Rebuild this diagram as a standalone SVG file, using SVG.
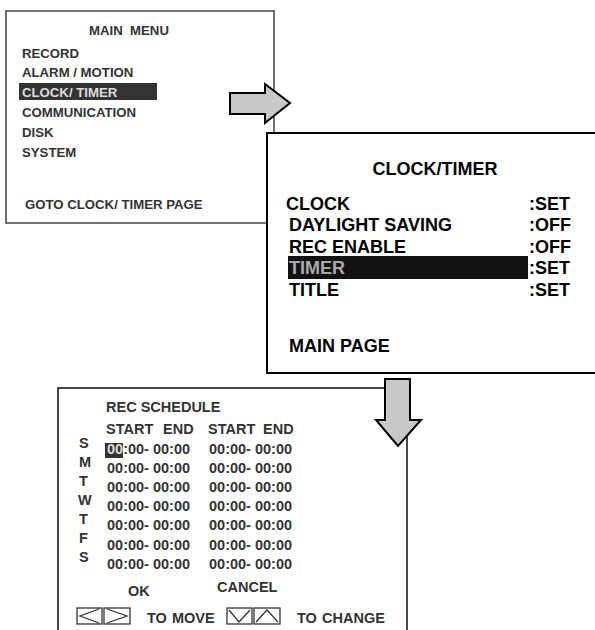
<svg xmlns="http://www.w3.org/2000/svg" width="595" height="630" viewBox="0 0 595 630">
<style>
text{font-family:"Liberation Sans",Arial,sans-serif;font-weight:bold}
.m{font-size:13.2px;fill:#333}
.c{font-size:18px;fill:#000}
.s{font-size:14.5px;fill:#333}
.arrow{fill:#c8c8c8;stroke:#000;stroke-width:2;stroke-linejoin:miter}
.key{fill:none;stroke:#333;stroke-width:1.3}
</style>
<rect width="595" height="630" fill="#fff"/>
<g id="main-menu">
<rect x="6" y="11" width="268" height="212" fill="#fff" stroke="#444" stroke-width="1.5"/>
<text class="m" x="129" y="35" text-anchor="middle">MAIN&#160; MENU</text>
<text class="m" x="22" y="58">RECORD</text>
<text class="m" x="22" y="77">ALARM / MOTION</text>
<rect x="19" y="83" width="138" height="17" fill="#333"/>
<text class="m" x="22" y="97" style="fill:#ddd">CLOCK/ TIMER</text>
<text class="m" x="22" y="117">COMMUNICATION</text>
<text class="m" x="22" y="137">DISK</text>
<text class="m" x="22" y="157">SYSTEM</text>
<text class="m" x="25" y="209">GOTO CLOCK/ TIMER PAGE</text>
</g>
<g id="connectors">
<polygon id="arrow-right" class="arrow" points="230,93 265,93 265,84 290,103 265,123 265,114 230,114"/>
</g>
<g id="clock-timer">
<rect x="267" y="133" width="340" height="240" fill="#fff" stroke="#000" stroke-width="2"/>
<text class="c" x="435" y="175" text-anchor="middle">CLOCK/TIMER</text>
<text class="c" x="286" y="210">CLOCK</text>
<text class="c" x="289" y="231">DAYLIGHT SAVING</text>
<text class="c" x="289" y="253">REC ENABLE</text>
<rect x="288" y="256" width="240" height="23" fill="#111"/>
<text class="c" x="289" y="274" style="fill:#aaa">TIMER</text>
<text class="c" x="289" y="296">TITLE</text>
<text class="c" x="289" y="352">MAIN PAGE</text>
<text class="c" x="529" y="210">:SET</text>
<text class="c" x="529" y="231">:OFF</text>
<text class="c" x="529" y="253">:OFF</text>
<text class="c" x="529" y="274">:SET</text>
<text class="c" x="529" y="296">:SET</text>
</g>
<g id="rec-schedule">
<rect x="58" y="388" width="349" height="260" fill="#fff" stroke="#333" stroke-width="1.8"/>
<text class="s" x="106" y="412">REC SCHEDULE</text>
<text class="s" x="106" y="434">START</text>
<text class="s" x="163" y="434">END</text>
<text class="s" x="208" y="434">START</text>
<text class="s" x="263" y="434">END</text>
<g class="days">
<text class="s" x="79" y="448">S</text>
<text class="s" x="79" y="467">M</text>
<text class="s" x="79" y="486">T</text>
<text class="s" x="78" y="505">W</text>
<text class="s" x="79" y="524">T</text>
<text class="s" x="79" y="543">F</text>
<text class="s" x="79" y="562">S</text>
</g>
<rect x="105" y="443" width="18" height="15" fill="#333"/>
<text class="s" x="107" y="454"><tspan style="fill:#ddd">00</tspan>:00- 00:00</text>
<text class="s" x="107" y="473">00:00- 00:00</text>
<text class="s" x="107" y="492">00:00- 00:00</text>
<text class="s" x="107" y="511">00:00- 00:00</text>
<text class="s" x="107" y="530">00:00- 00:00</text>
<text class="s" x="107" y="550">00:00- 00:00</text>
<text class="s" x="107" y="569">00:00- 00:00</text>
<text class="s" x="209" y="454">00:00- 00:00</text>
<text class="s" x="209" y="473">00:00- 00:00</text>
<text class="s" x="209" y="492">00:00- 00:00</text>
<text class="s" x="209" y="511">00:00- 00:00</text>
<text class="s" x="209" y="530">00:00- 00:00</text>
<text class="s" x="209" y="550">00:00- 00:00</text>
<text class="s" x="209" y="569">00:00- 00:00</text>
<text class="s" x="128" y="596">OK</text>
<text class="s" x="217" y="592">CANCEL</text>
<rect class="key" x="77" y="608" width="25" height="16"/>
<polyline class="key" points="99,609 80,616 99,623"/>
<rect class="key" x="104" y="608" width="26" height="16"/>
<polyline class="key" points="107,609 127,616 107,623"/>
<text class="s" x="147" y="623">TO</text>
<text class="s" x="172" y="623">MOVE</text>
<rect class="key" x="227" y="608" width="25" height="16"/>
<polyline class="key" points="229,610 239,622 250,610"/>
<rect class="key" x="254" y="608" width="26" height="16"/>
<polyline class="key" points="256,622 267,610 278,622"/>
<text class="s" x="297" y="623">TO</text>
<text class="s" x="322" y="623">CHANGE</text>
</g>
<g id="connectors-2">
<polygon id="arrow-down" class="arrow" points="385,379 410,379 410,420 421,420 398,446 376,420 385,420"/>
</g>
</svg>
